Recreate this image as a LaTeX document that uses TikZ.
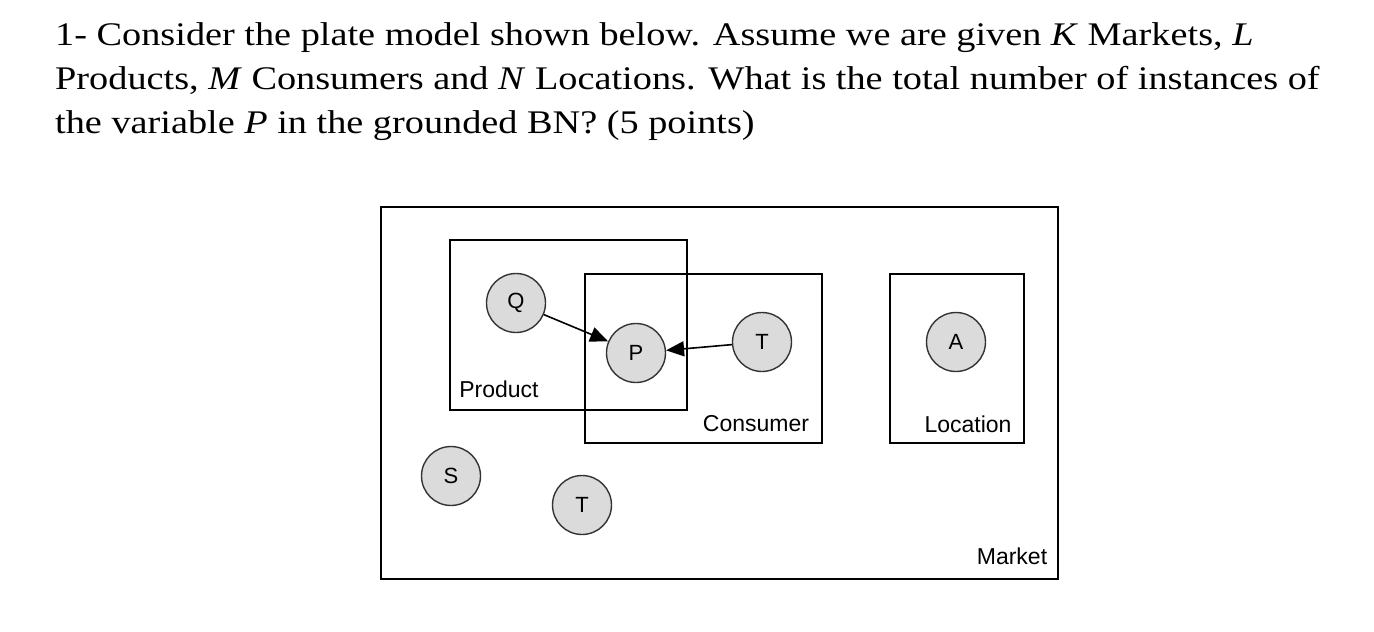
\documentclass[tikz,border=0pt]{standalone}
\usepackage{fontspec}
\setmainfont{Liberation Serif}
\newfontfamily\sans{Liberation Sans}
\usetikzlibrary{arrows.meta}
\begin{document}
\begin{tikzpicture}[x=1pt,y=-1pt,
  plate/.style={draw=black,line width=1.8pt},
  var/.style={circle,draw=black!80,line width=1.4pt,fill=black!14,minimum size=59pt,inner sep=0pt,font=\sans\fontsize{22}{22}\selectfont},
  lab/.style={font=\sans\fontsize{23}{23}\selectfont,inner sep=0pt},
  edge/.style={draw=black,line width=1.6pt,-{Triangle[length=18pt,width=15pt]}}]
\useasboundingbox (0,0) rectangle (1374,632);
\node[anchor=west,inner sep=0pt,align=left] (q) at (55,82)
 {\scalebox{1.16}[1]{\parbox{1100pt}{\fontsize{33}{44}\selectfont 1- Consider the plate model shown below. Assume we are given \textit{K} Markets, \textit{L}\\
 Products, \textit{M} Consumers and \textit{N} Locations. What is the total number of instances of\\
 the variable \textit{P} in the grounded BN? (5 points)}}};
\draw[plate] (381,207) rectangle (1058,579);
\draw[plate] (450,240) rectangle (687,410);
\draw[plate] (585,274) rectangle (822,443);
\draw[plate] (890,274) rectangle (1024,443);
\node[var] (Q) at (516,303) {Q};
\node[var] (P) at (636,353) {P};
\node[var] (T) at (762,342) {T};
\node[var] (A) at (956,342) {A};
\node[var] (S) at (451,476) {S};
\node[var] (T2) at (582,505) {T};
\draw[edge] (Q) -- (P);
\draw[edge] (T) -- (P);
\node[lab] (lp) at (499,389) {Product};
\node[lab] (lc) at (756,424) {Consumer};
\node[lab] (ll) at (968,424) {Location};
\node[lab] (lm) at (1012,556) {Market};
\end{tikzpicture}
\end{document}
